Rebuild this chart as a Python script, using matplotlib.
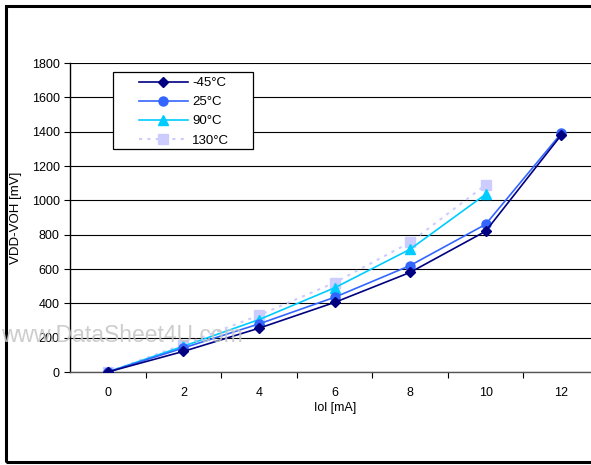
import matplotlib
matplotlib.use("Agg")
import matplotlib.pyplot as plt
from matplotlib.patches import Rectangle

plt.rcParams['font.family'] = ['Liberation Sans', 'DejaVu Sans']

# data
iol = [0, 2, 4, 6, 8, 10, 12]
v_m45 = [0, 120, 255, 405, 580, 820, 1380]
v_25 = [0, 140, 280, 435, 620, 860, 1390]
v_90 = [0, 150, 305, 490, 715, 1035]
v_130 = [0, 160, 330, 520, 755, 1090]

W, H = 591, 465
fig = plt.figure(figsize=(W / 100, H / 100), dpi=100)

# outer border (right side runs off the image)
fig.patches.append(Rectangle((6 / W, 3 / H), 1.2, (459 - 3) / H, transform=fig.transFigure,
                             fill=False, edgecolor='black', linewidth=2.2))

x0, x1 = 70, 599
y0, y1 = 372, 63
ax = fig.add_axes([x0 / W, 1 - y0 / H, (x1 - x0) / W, (y0 - y1) / H])

pos = list(range(len(iol)))
ax.plot(pos, v_m45, color='#000080', marker='D', markersize=5, linewidth=1.2, label='-45°C', zorder=5)
ax.plot(pos, v_25, color='#3366FF', marker='o', markersize=6.5, linewidth=1.2, label='25°C', zorder=4)
ax.plot(pos[:len(v_90)], v_90, color='#00CCFF', marker='^', markersize=7, linewidth=1.2, label='90°C', zorder=3)
ax.plot(pos[:len(v_130)], v_130, color='#CCCCFF', marker='s', markersize=6.5, linewidth=1.5,
        linestyle=(0, (1.5, 2.5)), label='130°C', zorder=2)

ax.set_xlim(-0.5, 6.5)
ax.set_ylim(0, 1800)
ax.set_yticks(range(0, 1801, 200))
ax.set_xticks(pos)
ax.set_xticklabels([str(v) for v in iol])
ax.set_xticks([p + 0.5 for p in pos[:-1]], minor=True)
ax.tick_params(axis='x', which='major', length=0, pad=11, labelsize=9)
ax.tick_params(axis='x', which='minor', length=4, direction='out', width=0.8)
ax.tick_params(axis='y', length=4, direction='out', labelsize=9, width=0.8)
ax.grid(axis='y', color='black', linewidth=0.8)
ax.set_axisbelow(True)
for s in ['top', 'right']:
    ax.spines[s].set_visible(False)
ax.spines['left'].set_linewidth(1.0)
ax.spines['bottom'].set_linewidth(1.0)
ax.spines['bottom'].set_color('#555555')

fig.text(16 / W, 1 - 218 / H, 'VDD-VOH [mV]', rotation=90, va='center', ha='center', fontsize=9.5)
fig.text(335 / W, 1 - 408 / H, 'Iol [mA]', va='center', ha='center', fontsize=9)

# legend box drawn by hand, entries placed inside it
ax.add_patch(Rectangle((113 / W, 1 - 149 / H), 140 / W, 77 / H, transform=fig.transFigure,
                       facecolor='white', edgecolor='black', linewidth=0.9, zorder=6, clip_on=False))
leg = ax.legend(loc='upper left', bbox_to_anchor=(139 / W, 1 - 77 / H), bbox_transform=fig.transFigure,
                fontsize=9.5, frameon=False, borderaxespad=0, borderpad=0,
                handlelength=3.7, handletextpad=0.35, labelspacing=0.52)
leg.set_zorder(7)

fig.text(1 / W, 1 - 336 / H, 'www.DataSheet4U.com', fontsize=16.5, color='#c4c4c4',
         va='center', ha='left', zorder=8, alpha=0.85)

fig.savefig('out.png', dpi=100)
